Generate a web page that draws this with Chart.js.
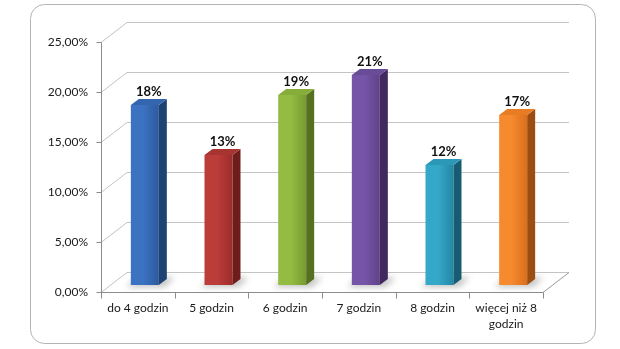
<!DOCTYPE html>
<html>
<head>
<meta charset="utf-8">
<script src="https://cdn.jsdelivr.net/npm/chart.js@4"></script>
<style>
  html, body { margin: 0; padding: 0; background: #ffffff; }
  #wrap { width: 620px; height: 349px; }
</style>
</head>
<body>
<div id="wrap"><canvas id="c" width="620" height="349"></canvas></div>
<script>
// Hours of sleep per night: share of respondents
const categories = ['do 4 godzin', '5 godzin', '6 godzin', '7 godzin', '8 godzin', ['więcej niż 8', 'godzin']];
const shares = [0.18, 0.13, 0.19, 0.21, 0.12, 0.17];
const yTicks = [0, 0.05, 0.10, 0.15, 0.20, 0.25];

// front / top / side shades for each column
const frontLight = ['#3C72C2', '#BC3C3A', '#94BC42', '#7655A8', '#34A8C8', '#F58A2E'];
const frontDark  = ['#2C5A9E', '#9C2C2A', '#789A32', '#5E4288', '#2486A6', '#DC6E1C'];
const topShade   = ['#3466B0', '#A83432', '#86AC3A', '#684C98', '#2C98B8', '#E87C24'];
const sideShade  = ['#1F4274', '#6E1C1C', '#55701F', '#41295F', '#175C72', '#9C4E12'];

const fmtPct = v => (v * 100).toFixed(2).replace('.', ',') + '%';

// projection offsets of the box: bar plane -> front edge, bar plane -> back wall
const FRONT = { dx: -7, dy: 7 };
const BACK = { dx: 19, dy: -13 };
const BAR_DEPTH = { dx: 8, dy: -6 };

const boxPlugin = {
  id: 'box3d',
  beforeDraw(chart) {
    const ctx = chart.ctx;
    ctx.save();
    ctx.fillStyle = '#ffffff';
    ctx.fillRect(0, 0, chart.width, chart.height);
    ctx.strokeStyle = '#B4B4B4';
    ctx.lineWidth = 1;
    ctx.beginPath();
    ctx.roundRect(30.5, 4.5, 565, 339, 14);
    ctx.stroke();
    ctx.restore();
  },
  beforeDatasetsDraw(chart) {
    const { ctx, chartArea: a, scales: { x, y } } = chart;
    ctx.save();
    ctx.lineWidth = 1;
    // back wall grid and left wall diagonals
    ctx.strokeStyle = '#C4C4C4';
    yTicks.forEach(v => {
      const py = Math.round(y.getPixelForValue(v)) + 0.5;
      ctx.beginPath();
      ctx.moveTo(a.left + BACK.dx, py + BACK.dy);
      ctx.lineTo(a.right + BACK.dx, py + BACK.dy);
      ctx.stroke();
      ctx.beginPath();
      ctx.moveTo(a.left + FRONT.dx, py + FRONT.dy);
      ctx.lineTo(a.left + BACK.dx, py + BACK.dy);
      ctx.stroke();
    });
    // floor right edge
    const pb = Math.round(y.getPixelForValue(0)) + 0.5;
    ctx.strokeStyle = '#9A9A9A';
    ctx.beginPath();
    ctx.moveTo(a.right + FRONT.dx, pb + FRONT.dy);
    ctx.lineTo(a.right + BACK.dx, pb + BACK.dy);
    ctx.stroke();

    // soft shadows on the floor
    ctx.save();
    ctx.filter = 'blur(3px)';
    ctx.fillStyle = 'rgba(0,0,0,0.24)';
    chart.getDatasetMeta(0).data.forEach(bar => {
      const w = bar.width;
      ctx.beginPath();
      ctx.moveTo(bar.x - w / 2 - 4, bar.base + 2);
      ctx.lineTo(bar.x + w / 2 + 6, bar.base + 2);
      ctx.lineTo(bar.x + w / 2 + 16, bar.base - 8);
      ctx.lineTo(bar.x - w / 2 + 4, bar.base - 6);
      ctx.closePath();
      ctx.fill();
    });
    ctx.restore();

    // front axes
    ctx.strokeStyle = '#8C8C8C';
    const fx = Math.round(a.left + FRONT.dx) + 0.5;
    const fy = pb + FRONT.dy;
    ctx.beginPath();
    ctx.moveTo(fx, Math.round(y.getPixelForValue(yTicks[yTicks.length - 1])) + 0.5 + FRONT.dy);
    ctx.lineTo(fx, fy);
    ctx.lineTo(Math.round(a.right + FRONT.dx) + 0.5, fy);
    ctx.stroke();
    yTicks.forEach(v => {
      const py = Math.round(y.getPixelForValue(v)) + 0.5 + FRONT.dy;
      ctx.beginPath();
      ctx.moveTo(fx - 5, py);
      ctx.lineTo(fx, py);
      ctx.stroke();
    });
    const step = (a.right - a.left) / categories.length;
    for (let i = 0; i <= categories.length; i++) {
      const px = Math.round(a.left + FRONT.dx + i * step) + 0.5;
      ctx.beginPath();
      ctx.moveTo(px, fy);
      ctx.lineTo(px, fy + 6);
      ctx.stroke();
    }
    ctx.restore();
  },
  afterDatasetsDraw(chart) {
    const ctx = chart.ctx;
    ctx.save();
    chart.getDatasetMeta(0).data.forEach((bar, i) => {
      const l = bar.x - bar.width / 2, r = bar.x + bar.width / 2;
      const t = bar.y, b = bar.base;
      const d = BAR_DEPTH;
      // side face
      ctx.fillStyle = sideShade[i];
      ctx.beginPath();
      ctx.moveTo(r, t);
      ctx.lineTo(r + d.dx, t + d.dy);
      ctx.lineTo(r + d.dx, b + d.dy);
      ctx.lineTo(r, b);
      ctx.closePath();
      ctx.fill();
      // top face
      ctx.fillStyle = topShade[i];
      ctx.beginPath();
      ctx.moveTo(l, t);
      ctx.lineTo(l + d.dx, t + d.dy);
      ctx.lineTo(r + d.dx, t + d.dy);
      ctx.lineTo(r, t);
      ctx.closePath();
      ctx.fill();
      // value label
      ctx.fillStyle = '#111111';
      ctx.font = 'bold 13px Lato';
      ctx.textAlign = 'center';
      ctx.textBaseline = 'middle';
      ctx.fillText(Math.round(shares[i] * 100) + '%', bar.x + 4, t - 13);
    });
    ctx.restore();
  }
};

new Chart(document.getElementById('c'), {
  type: 'bar',
  data: {
    labels: categories,
    datasets: [{
      data: shares,
      borderWidth: 0,
      backgroundColor: c => {
        const chart = c.chart;
        const i = c.dataIndex;
        if (!chart.chartArea || i === undefined) return frontLight[i || 0];
        const xc = chart.scales.x.getPixelForValue(i);
        const g = chart.ctx.createLinearGradient(xc - 14, 0, xc + 14, 0);
        g.addColorStop(0, frontLight[i]);
        g.addColorStop(0.45, frontLight[i]);
        g.addColorStop(1, frontDark[i]);
        return g;
      }
    }]
  },
  options: {
    responsive: false,
    animation: false,
    events: [],
    layout: { padding: { left: 0, right: 70, top: 35, bottom: 0 } },
    plugins: { legend: { display: false }, tooltip: { enabled: false } },
    datasets: { bar: { categoryPercentage: 1, barPercentage: 0.38 } },
    scales: {
      x: {
        grid: { display: false, drawTicks: false },
        border: { display: false },
        ticks: {
          padding: 15,
          labelOffset: FRONT.dx,
          maxRotation: 0,
          autoSkip: false,
          color: '#1a1a1a',
          font: { family: 'Lato', size: 12, lineHeight: 1.35 }
        },
        afterFit: s => { s.height = 64; }
      },
      y: {
        min: 0,
        max: 0.25,
        grid: { display: false, drawTicks: false },
        border: { display: false },
        afterBuildTicks: s => { s.ticks = yTicks.map(v => ({ value: v })); },
        ticks: {
          padding: 20,
          labelOffset: FRONT.dy,
          color: '#1a1a1a',
          font: { family: 'Lato', size: 12 },
          callback: v => fmtPct(v)
        },
        afterFit: s => { s.width = 108; }
      }
    }
  },
  plugins: [boxPlugin]
});
</script>
</body>
</html>
